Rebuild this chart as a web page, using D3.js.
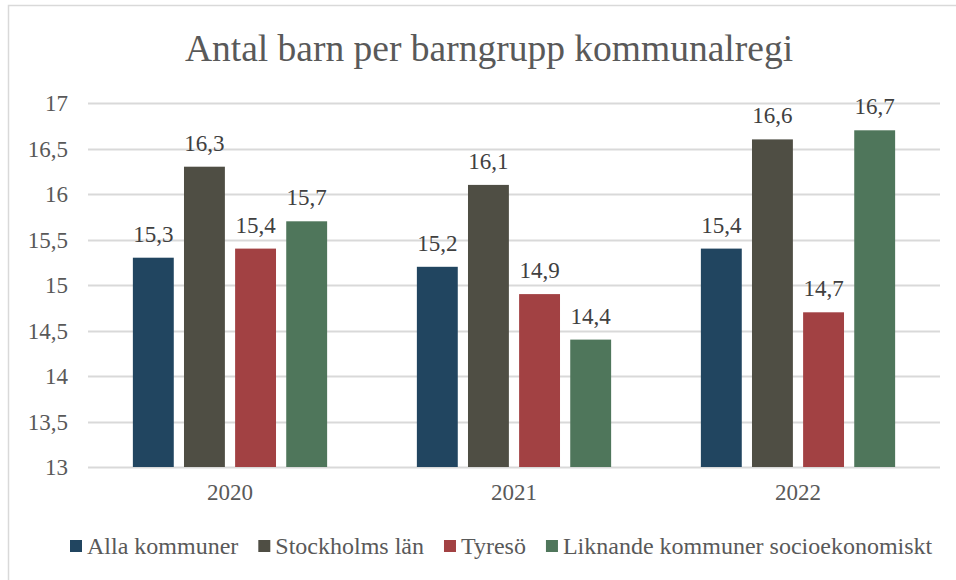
<!DOCTYPE html>
<html>
<head>
<meta charset="utf-8">
<script src="https://cdn.jsdelivr.net/npm/d3@7"></script>
<style>
  body { margin: 0; background: #fff; }
</style>
</head>
<body>
<svg id="chart" width="956" height="580"></svg>
<script>
var years = ["2020", "2021", "2022"];
var seriesNames = ["Alla kommuner", "Stockholms län", "Tyresö", "Liknande kommuner socioekonomiskt"];
var seriesColors = ["#214560", "#4f4e44", "#a24143", "#4f765b"];
var allaKommuner = [15.3, 15.2, 15.4];
var stockholmsLan = [16.3, 16.1, 16.6];
var tyreso = [15.4, 14.9, 14.7];
var liknande = [15.7, 14.4, 16.7];
var yTicks = [13, 13.5, 14, 14.5, 15, 15.5, 16, 16.5, 17];

var values = [allaKommuner, stockholmsLan, tyreso, liknande];
var fmt = function(v) { return String(v).replace(".", ","); };
var fontFam = "'Liberation Serif', serif";

var svg = d3.select("#chart");

// chart frame
svg.append("rect")
    .attr("x", 8.5).attr("y", 5.5)
    .attr("width", 960).attr("height", 600)
    .style("fill", "none")
    .style("stroke", "#d9d9d9")
    .style("stroke-width", 1.5);

svg.append("text")
    .attr("x", 489).attr("y", 61)
    .attr("text-anchor", "middle")
    .style("font-family", fontFam)
    .style("font-size", "37.5px")
    .style("fill", "#595959")
    .text("Antal barn per barngrupp kommunalregi");

var x0 = d3.scaleBand().domain(years).range([88, 940]).paddingInner(0).paddingOuter(0);
var x1 = d3.scaleBand().domain(d3.range(seriesNames.length))
    .range([x0.bandwidth() * 0.158, x0.bandwidth() * 0.842]).paddingInner(0.2).paddingOuter(0);
var y = d3.scaleLinear().domain([13, 17]).range([467, 103]);

// gridlines
svg.append("g").selectAll("line")
    .data(yTicks)
    .join("line")
    .attr("x1", 88).attr("x2", 940)
    .attr("y1", function(d) { return Math.round(y(d)) + 0.5; })
    .attr("y2", function(d) { return Math.round(y(d)) + 0.5; })
    .style("stroke", "#d9d9d9")
    .style("stroke-width", 2);

// y axis labels
var yAxis = svg.append("g")
    .attr("transform", "translate(68,0)")
    .call(d3.axisLeft(y).tickValues(yTicks).tickFormat(fmt).tickSize(0).tickPadding(0));
yAxis.attr("font-family", null);
yAxis.select(".domain").remove();
yAxis.selectAll("text")
    .attr("dy", "0.33em")
    .style("font-family", fontFam)
    .style("font-size", "23px")
    .style("fill", "#595959");

// x axis labels
var xAxis = svg.append("g")
    .attr("transform", "translate(0,500)")
    .call(d3.axisBottom(x0).tickSize(0).tickPadding(0));
xAxis.attr("font-family", null);
xAxis.select(".domain").remove();
xAxis.selectAll("text")
    .attr("dy", 0)
    .style("font-family", fontFam)
    .style("font-size", "23px")
    .style("fill", "#595959");

// bars
var groups = svg.append("g").selectAll("g")
    .data(years)
    .join("g")
    .attr("transform", function(d) { return "translate(" + x0(d) + ",0)"; });

groups.each(function(year, yi) {
  var g = d3.select(this);
  var rows = seriesNames.map(function(name, si) { return { si: si, v: values[si][yi] }; });
  g.selectAll("rect")
      .data(rows)
      .join("rect")
      .attr("x", function(d) { return x1(d.si); })
      .attr("width", x1.bandwidth())
      .attr("y", function(d) { return y(d.v); })
      .attr("height", function(d) { return y(13) - y(d.v); })
      .style("fill", function(d) { return seriesColors[d.si]; });
  g.selectAll("text")
      .data(rows)
      .join("text")
      .attr("x", function(d) { return x1(d.si) + x1.bandwidth() / 2; })
      .attr("y", function(d) { return y(d.v) - 16; })
      .attr("text-anchor", "middle")
      .style("font-family", fontFam)
      .style("font-size", "23px")
      .style("fill", "#404040")
      .text(function(d) { return fmt(d.v); });
});

// legend, laid out from measured text widths
var legend = svg.append("g").attr("transform", "translate(0,540)");
var lx = 70;
seriesNames.forEach(function(name, i) {
  legend.append("rect")
      .attr("x", lx).attr("y", 0)
      .attr("width", 12).attr("height", 12)
      .style("fill", seriesColors[i]);
  var t = legend.append("text")
      .attr("x", lx + 17).attr("y", 14)
      .style("font-family", fontFam)
      .style("font-size", "24px")
      .style("fill", "#595959")
      .text(name);
  lx += 17 + t.node().getComputedTextLength() + 20;
});
</script>
</body>
</html>
